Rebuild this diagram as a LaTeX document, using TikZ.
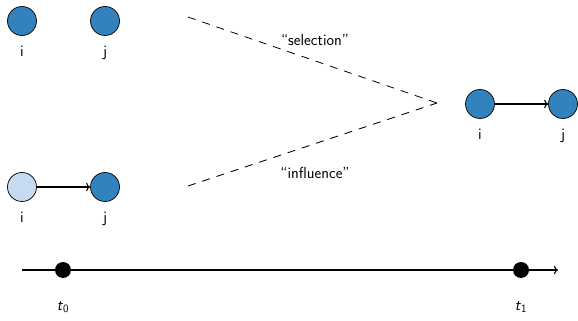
\documentclass[tikz,border=0pt]{standalone}
\usetikzlibrary{arrows.meta,positioning}
\definecolor{Tie_Blue}{HTML}{3182BD}
\definecolor{Tie_Light}{HTML}{C6DBEF}

\begin{document}
\begin{tikzpicture}[x=1pt, y=1pt, >=To,
    font=\sffamily\fontsize{16}{19}\selectfont,
    actor/.style={circle, draw=black, fill=Tie_Blue, minimum size=29pt, inner sep=0pt, line width=0.7pt},
    lbl/.style={inner sep=0pt, below=10pt},
    tie/.style={->, line width=1.1pt},
    route/.style={dash pattern=on 8pt off 7pt, line width=0.8pt},
    instant/.style={circle, fill=black, minimum size=16pt, inner sep=0pt}]
    \useasboundingbox (0,0) rectangle (578,321);

    % t0: no tie
    \node[actor] (iA) at (22,300) {};
    \node[actor] (jA) at (105,300) {};
    \node[lbl] at (iA.south) {i};
    \node[lbl] at (jA.south) {j};

    % t0: tie, i not yet blue
    \node[actor, fill=Tie_Light] (iB) at (22,134) {};
    \node[actor] (jB) at (105,134) {};
    \node[lbl] at (iB.south) {i};
    \node[lbl] at (jB.south) {j};
    \draw[tie] (iB) -- (jB);

    % t1: tie, both blue
    \node[actor] (iC) at (480,217) {};
    \node[actor] (jC) at (563,217) {};
    \node[lbl] at (iC.south) {i};
    \node[lbl] at (jC.south) {j};
    \draw[tie] (iC) -- (jC);

    % Two routes
    \coordinate (apex) at (437,218);
    \coordinate (selStart) at (188,304);
    \coordinate (infStart) at (188,135);
    \draw[route] (selStart) -- (apex);
    \draw[route] (infStart) -- (apex);
    \node (sel) at (315,281) {``selection''};
    \node (inf) at (315,148) {``influence''};

    % Time axis
    \coordinate (axisL) at (22,51);
    \coordinate (axisR) at (558,51);
    \draw[->, line width=1.1pt] (axisL) -- (axisR);
    \node[instant] (tZero) at (63,51) {};
    \node[instant] (tOne) at (521,51) {};
    \node (tZeroLbl) at (63,14) {\textit{t}\textsubscript{0}};
    \node (tOneLbl) at (521,14) {\textit{t}\textsubscript{1}};

\end{tikzpicture}
\end{document}
